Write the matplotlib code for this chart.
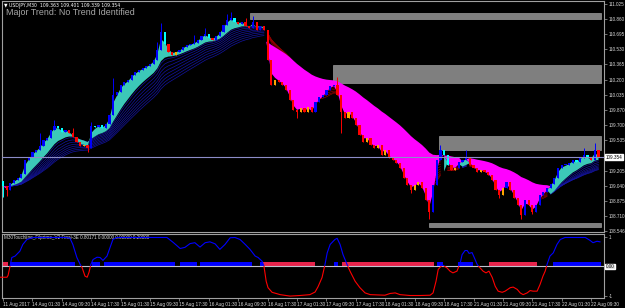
import numpy as np
import pandas as pd
import matplotlib
matplotlib.use("Agg")
import matplotlib.pyplot as plt
import matplotlib.transforms as mtransforms
from matplotlib.patches import Rectangle

# ── data (USDJPY, one entry per bar) ──────────────────────────
closes = [
    109.036, 108.992, 109.069, 109.101, 109.123, 109.167, 109.320, 109.353, 109.407, 109.429,
    109.473, 109.538, 109.560, 109.648, 109.692, 109.670, 109.626, 109.648, 109.615, 109.571,
    109.517, 109.473, 109.484, 109.451, 109.692, 109.681, 109.703, 109.670, 109.713, 109.812,
    110.030, 110.063, 110.140, 110.173, 110.194, 110.249, 110.282, 110.304, 110.326, 110.347,
    110.369, 110.413, 110.522, 110.719, 110.588, 110.500, 110.468, 110.500, 110.522, 110.555,
    110.577, 110.588, 110.599, 110.632, 110.675, 110.697, 110.653, 110.632, 110.675, 110.719,
    110.795, 110.850, 110.872, 110.828, 110.806, 110.828, 110.785, 110.763, 110.828, 110.741,
    110.785, 110.741, 110.413, 110.140, 110.194, 110.173, 110.140, 110.085, 109.976, 109.866,
    109.845, 109.888, 109.845, 109.899, 109.845, 109.954, 110.009, 110.030, 110.085, 110.129,
    110.140, 110.030, 109.845, 109.779, 109.845, 109.779, 109.703, 109.593, 109.517, 109.560,
    109.484, 109.451, 109.484, 109.375, 109.429, 109.342, 109.320, 109.287, 109.233, 109.123,
    109.047, 108.992, 109.047, 109.080, 109.014, 108.883, 108.752, 109.047, 109.320, 109.429,
    109.375, 109.265, 109.211, 109.233, 109.298, 109.320, 109.342, 109.265, 109.233, 109.189,
    109.211, 109.189, 109.156, 109.101, 108.992, 108.937, 109.014, 109.080, 108.992, 108.905,
    108.828, 108.719, 108.883, 108.828, 108.752, 108.828, 108.937, 108.970, 109.014, 109.058,
    109.123, 109.233, 109.265, 109.265, 109.287, 109.320, 109.298, 109.342, 109.375, 109.342,
    109.320, 109.429, 109.354]
first_open = 109.090
wick_hi = {10: 109.615, 14: 109.757, 19: 109.670, 24: 109.735, 30: 110.216, 42: 110.610,
           43: 110.817, 52: 110.686, 55: 110.763, 61: 110.916, 62: 110.937, 66: 110.872,
           68: 110.894, 91: 110.227, 119: 109.484, 126: 109.429, 158: 109.451, 161: 109.506}
wick_lo = {0: 108.916, 1: 108.927, 23: 109.407, 80: 109.779, 92: 109.615, 111: 108.959,
           116: 108.675, 135: 108.905, 141: 108.675, 144: 108.730}
last_price = 109.354

# supply / demand zones: start bar, top, bottom (they run to the right edge)
zone_start = [67.2, 89.8, 118.6, 115.9]
zone_top = [110.927, 110.358, 109.582, 108.635]
zone_bot = [110.861, 110.162, 109.429, 108.591]

# oscillator (bar position, value)
osc_bar = [-0.8, 1.1, 1.4, 1.9, 2.4, 3.3, 4.6, 5.4, 6.5, 8.2, 16.9, 18.2, 19.0, 20.1, 21.0,
           21.5, 22.3, 22.9, 23.4, 23.9, 24.5, 25.6, 26.4, 27.2, 28.3, 29.1, 29.9, 31.0, 44.6,
           46.3, 48.2, 49.5, 50.9, 52.2, 53.6, 55.0, 56.3, 57.7, 59.0, 60.4, 61.8, 63.1, 64.5,
           65.9, 67.2, 68.6, 69.4, 70.5, 71.0, 71.6, 72.1, 73.2, 75.4, 78.1, 80.8, 83.5, 84.9,
           85.7, 86.8, 87.6, 88.2, 89.0, 90.3, 90.9, 91.7, 92.5, 93.6, 94.4, 95.8, 97.1, 98.5,
           99.9, 103.9, 105.3, 106.7, 108.0, 110.7, 113.5, 116.2, 117.0, 117.8, 118.4, 119.2,
           119.7, 120.8, 121.6, 122.4, 123.5, 124.4, 124.9, 125.7, 126.3, 126.8, 127.6, 128.2,
           129.0, 129.8, 130.6, 131.4, 132.2, 133.1, 133.9, 134.7, 135.8, 136.6, 138.0, 138.8,
           139.9, 140.7, 141.5, 142.6, 143.4, 144.2, 145.3, 146.1, 146.9, 147.5, 148.0, 148.8,
           149.7, 150.7, 151.6, 152.9, 158.4, 159.7, 160.5, 161.6, 162.4]
osc_val = [-0.37, -0.37, -0.30, 0.0, 0.31, 0.36, 0.53, 0.76, 0.93, 1.0, 1.0, 0.98, 0.76, 0.31,
           0.07, -0.03, -0.33, -0.37, -0.2, 0.07, 0.24, 0.32, 0.31, 0.21, 0.36, 0.64, 0.93, 1.0,
           1.0, 0.83, 0.62, 0.66, 0.79, 0.82, 0.67, 0.82, 0.85, 0.78, 0.59, 0.76, 0.99, 1.0,
           0.93, 0.76, 0.59, 0.36, 0.31, 0.18, 0.01, -0.51, -0.73, -0.89, -0.97, -1.02, -1.0,
           -0.97, -0.88, -0.70, -0.38, 0.07, 0.47, 0.76, 0.93, 0.97, 0.76, 0.41, 0.07, -0.16,
           -0.51, -0.73, -0.91, -0.97, -0.99, -0.93, -0.91, -0.97, -1.0, -1.0, -0.99, -0.91,
           -0.51, -0.10, 0.01, 0.04, -0.05, -0.16, -0.22, -0.16, 0.13, 0.41, 0.55, 0.55, 0.45,
           0.48, 0.31, 0.07, -0.05, -0.16, -0.22, -0.16, -0.38, -0.68, -0.85, -0.89, -0.85,
           -0.73, -0.71, -0.79, -0.91, -0.97, -0.91, -0.83, -0.85, -0.85, -0.62, -0.33, -0.16,
           0.07, 0.36, 0.47, 0.76, 0.93, 1.0, 1.0, 0.9, 0.82, 0.87, 0.85]

# state strip on the zero line
state_start = [-0.8, 1.9, 24.2, 27.5, 48.2, 53.6, 69.9, 70.7, 90.1, 92.2, 118.1, 123.8, 132.2, 149.7]
state_end = [1.4, 19.6, 26.4, 46.8, 52.8, 67.8, 70.7, 84.9, 91.2, 117.3, 119.7, 127.9, 145.3, 162.7]
state_up = [False, True, True, True, True, True, True, False, True, False, True, True, False, True]

price_ticks = [111.025, 110.860, 110.695, 110.530, 110.365, 110.200, 110.035, 109.870,
               109.700, 109.535, 109.205, 109.040, 108.875, 108.710, 108.546]
time_labels = ["11 Aug 2017", "14 Aug 01:30", "14 Aug 09:30", "14 Aug 17:30", "15 Aug 01:30",
               "15 Aug 09:30", "15 Aug 17:30", "16 Aug 01:30", "16 Aug 09:30", "16 Aug 17:30",
               "17 Aug 01:30", "17 Aug 09:30", "17 Aug 17:30", "18 Aug 01:30", "18 Aug 09:30",
               "18 Aug 17:30", "21 Aug 01:30", "21 Aug 09:30", "21 Aug 17:30", "22 Aug 01:30",
               "22 Aug 09:30"]
bars_per_label = 8

# ── derived ───────────────────────────────────────────────────
c = pd.Series(closes)
n = len(c)
x = np.arange(n)
opens = np.r_[first_open, c.values[:-1]]
ema = lambda p: c.ewm(span=p, adjust=False).mean().values
fast = ema(2)
band_up = ema(9)
band_dn = ema(30)
trend = ema(5)
fan_periods = [10, 12, 14, 16, 18, 20, 22, 24]
uptrend = ema(3) >= ema(24)

GRID = "#a0a0a0"
TXT = "#d8d8d8"
FS = 3.4
FONT = "Liberation Sans"

fig = plt.figure(figsize=(6.25, 3.08), dpi=100, facecolor="black")
ax = fig.add_axes([2 / 625, 76 / 308, 602 / 625, 231 / 308], facecolor="black")
axo = fig.add_axes([2 / 625, 10 / 308, 602 / 625, 64 / 308], facecolor="black", sharex=ax)

# zones
for s, t, b in zip(zone_start, zone_top, zone_bot):
    ax.add_patch(Rectangle((s, b), 162.6 - s, t - b, facecolor="#7f7f7f",
                           edgecolor="#9a9a9a", linewidth=0.5, zorder=1))

# fan lines
for p in fan_periods:
    e = ema(p)
    ax.plot(x, np.where(uptrend, e, np.nan), color="#1414a0", lw=0.5, zorder=2)
    ax.plot(x, np.where(~uptrend, e, np.nan), color="#8b0000", lw=0.5, zorder=2)

ax.fill_between(x, fast, band_up, where=uptrend, color="#3cc8b8", lw=0, zorder=3,
                interpolate=True)
ax.fill_between(x, fast, band_dn, where=~uptrend, color="#ff00ff", lw=0, zorder=3,
                interpolate=True)

# candles
cl = c.values
up_side = cl >= trend
rising = cl >= opens
cols = np.where(up_side, np.where(rising, "#0000ff", "#00ffff"),
                np.where(rising, "#ffa500", "#ff0000"))
hi = np.array([wick_hi.get(i, max(opens[i], cl[i])) for i in range(n)])
lo = np.array([wick_lo.get(i, min(opens[i], cl[i])) for i in range(n)])
ax.vlines(x, lo, hi, colors=cols, lw=0.7, zorder=4)
body = np.abs(cl - opens)
body = np.maximum(body, 0.008)
ax.bar(x, body, bottom=np.minimum(cl, opens), width=0.6, color=cols, lw=0, zorder=4)

ax.axhline(last_price, color="#8c8cc8", lw=0.8, zorder=5)

ax.set_xlim(-0.27, 163.5)
ax.set_ylim(108.535, 111.058)
ax.yaxis.tick_right()
ax.set_yticks(price_ticks)
ax.set_yticklabels([f"{v:.3f}" for v in price_ticks], fontsize=3.3, color=TXT, family=FONT)
ax.tick_params(axis="y", length=2.5, width=0.5, color=GRID, pad=1)
ax.tick_params(axis="x", bottom=False, labelbottom=False)
for sp in ax.spines.values():
    sp.set_color(GRID); sp.set_linewidth(0.8)
tr = mtransforms.blended_transform_factory(ax.transAxes, ax.transData)
ax.text(1.003, last_price, f"{last_price:.3f}", transform=tr, fontsize=3.3, family=FONT,
        color="black", va="center", ha="left",
        bbox=dict(facecolor="white", edgecolor="white", pad=0.3))

ax.text(0.004, 0.992, "\u25bc USDJPY,M30  109.363 109.401 109.339 109.354", transform=ax.transAxes,
        fontsize=3.3, color="white", va="top", ha="left", family=["DejaVu Sans"])
ax.text(0.0066, 0.952, "Major Trend: No Trend Identified", transform=ax.transAxes,
        fontsize=6.4, color="#a8a8a8", va="center", ha="left", family=FONT)

# ── oscillator panel ──────────────────────────────────────────
for s, e_, u in zip(state_start, state_end, state_up):
    axo.bar(s, 0.14, bottom=0.0, width=e_ - s, align="edge",
            color="#0000ff" if u else "#e8244c", lw=0, zorder=2)
axo.axhline(0, color="#c0c0cc", lw=0.8, zorder=3)
for clr, y0, y1 in (("#0000ff", 0, 5), ("#ff0000", -5, 0)):
    ln, = axo.plot(osc_bar, osc_val, color=clr, lw=0.8, zorder=4)
    clip = Rectangle((-10, y0), 200, y1 - y0, transform=axo.transData)
    ln.set_clip_path(clip)

axo.set_ylim(-1.086, 1.12)
axo.yaxis.tick_right()
axo.set_yticks([1, -1])
axo.set_yticklabels(["1", "-1"], fontsize=3.3, color=TXT, family=FONT)
axo.tick_params(axis="y", length=2.5, width=0.5, color=GRID, pad=1)
tro = mtransforms.blended_transform_factory(axo.transAxes, axo.transData)
axo.text(1.003, 0, "0.00", transform=tro, fontsize=3.3, family=FONT, color="black",
         va="center", ha="left", bbox=dict(facecolor="#e0e0e0", edgecolor="white", pad=0.3))
axo.text(0.003, 0.94, "M30Touchline_Filprime_V2 Final-3E 0.80171 0.00000 0.00000 0.20000",
         transform=axo.transAxes, fontsize=3.3, color=TXT, va="center", ha="left", family=FONT)

tick_pos = [i * bars_per_label for i in range(len(time_labels))]
axo.set_xticks(tick_pos)
axo.set_xticklabels(time_labels, fontsize=FS, color=TXT, family=FONT, ha="left")
axo.tick_params(axis="x", length=2, width=0.5, color=GRID, pad=1)
for sp in axo.spines.values():
    sp.set_color(GRID); sp.set_linewidth(0.8)

fig.savefig("out.png", dpi=100, facecolor="black")
